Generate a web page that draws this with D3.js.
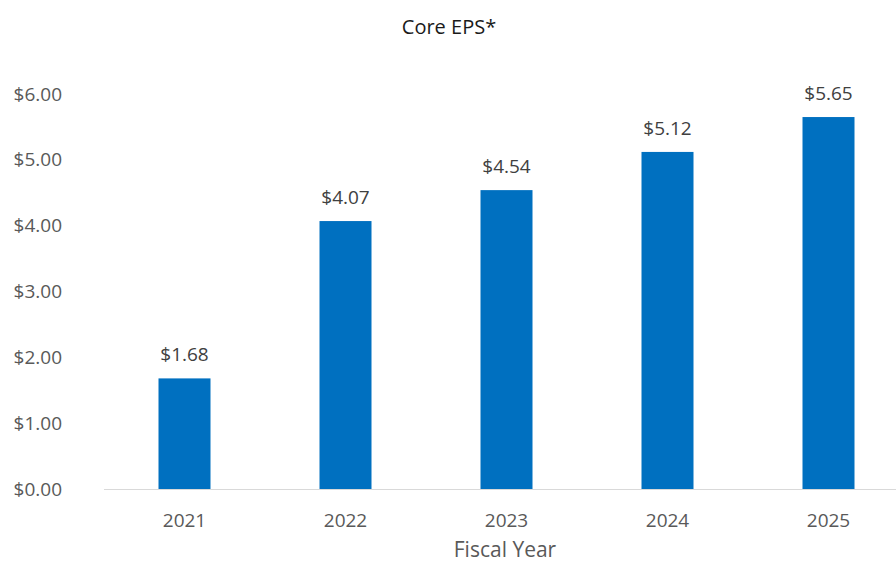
<!DOCTYPE html>
<html>
<head>
<meta charset="utf-8">
<script src="https://cdn.jsdelivr.net/npm/d3@7"></script>
<style>
  html, body { margin: 0; padding: 0; background: #fff; }
  svg text { font-family: "Open Sans", sans-serif; }
</style>
</head>
<body>
<div id="container"></div>
<script>
const years = ["2021", "2022", "2023", "2024", "2025"];
const eps = [1.68, 4.07, 4.54, 5.12, 5.65];
const yTicks = [0, 1, 2, 3, 4, 5, 6];

const totalWidth = 896;
const totalHeight = 563;

const svg = d3.select("#container")
  .append("svg")
  .attr("width", totalWidth)
  .attr("height", totalHeight);

// Scales
const xScale = d3.scaleBand()
  .domain(years)
  .range([104, 909])
  .paddingInner(0.677)
  .paddingOuter(0.3385);

const yScale = d3.scaleLinear()
  .domain([0, 6])
  .range([489, 94]);

// Y tick labels (no axis line)
svg.append("g")
  .selectAll("text")
  .data(yTicks)
  .enter()
  .append("text")
  .attr("x", 62)
  .attr("y", d => yScale(d))
  .attr("dy", "0.35em")
  .attr("text-anchor", "end")
  .attr("fill", "#595959")
  .style("font-size", "19px")
  .text(d => d3.format("$.2f")(d));

// Baseline
svg.append("line")
  .attr("x1", 104)
  .attr("x2", 909)
  .attr("y1", yScale(0) + 0.5)
  .attr("y2", yScale(0) + 0.5)
  .attr("stroke", "#d9d9d9")
  .attr("stroke-width", 1);

// Bars
svg.selectAll("rect.bar")
  .data(eps)
  .enter()
  .append("rect")
  .attr("class", "bar")
  .attr("x", (d, i) => xScale(years[i]))
  .attr("y", d => yScale(d))
  .attr("width", xScale.bandwidth())
  .attr("height", d => yScale(0) - yScale(d))
  .attr("fill", "#0070c0");

// Value labels
svg.selectAll("text.value")
  .data(eps)
  .enter()
  .append("text")
  .attr("class", "value")
  .attr("x", (d, i) => xScale(years[i]) + xScale.bandwidth() / 2)
  .attr("y", d => yScale(d) - 24)
  .attr("dy", "0.35em")
  .attr("text-anchor", "middle")
  .attr("fill", "#404040")
  .style("font-size", "19px")
  .text(d => d3.format("$.2f")(d));

// X tick labels
svg.selectAll("text.year")
  .data(years)
  .enter()
  .append("text")
  .attr("class", "year")
  .attr("x", d => xScale(d) + xScale.bandwidth() / 2)
  .attr("y", 520)
  .attr("dy", "0.35em")
  .attr("text-anchor", "middle")
  .attr("fill", "#595959")
  .style("font-size", "19px")
  .text(d => d);

// Axis title
svg.append("text")
  .attr("x", 505)
  .attr("y", 557)
  .attr("text-anchor", "middle")
  .attr("fill", "#595959")
  .style("font-size", "21px")
  .text("Fiscal Year");

// Chart title
svg.append("text")
  .attr("x", 449)
  .attr("y", 27)
  .attr("dy", "0.35em")
  .attr("text-anchor", "middle")
  .attr("fill", "#1a1a1a")
  .style("font-size", "20px")
  .text("Core EPS*");
</script>
</body>
</html>
